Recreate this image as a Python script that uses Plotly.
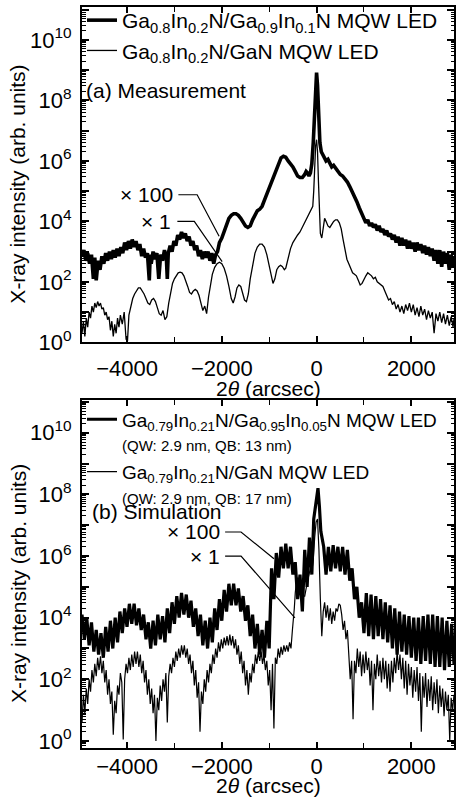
import numpy as np
import plotly.graph_objects as go

# ---------------- DATA (log10 of intensity) ----------------
# (a) Measurement, Ga0.8In0.2N/Ga0.9In0.1N MQW LED  (x100)
meas_qb_x = [-4950, -4910, -4870, -4830, -4790, -4750, -4710, -4680, -4650, -4610, -4570, -4530,
             -4490, -4450, -4410, -4370, -4330, -4290, -4250, -4210, -4170, -4130, -4090, -4050,
             -4010, -3970, -3930, -3890, -3850, -3810, -3770, -3730, -3690, -3650, -3610, -3570,
             -3530, -3510, -3490, -3450, -3410, -3370, -3330, -3290, -3250, -3210, -3170, -3150,
             -3130, -3090, -3050, -3010, -2970, -2930, -2890, -2850, -2810, -2770, -2730, -2690,
             -2650, -2610, -2570, -2530, -2490, -2450, -2410, -2370, -2330, -2290, -2250, -2210,
             -2170, -2130, -2090, -2050,
             -2000, -1950, -1900, -1850, -1800, -1750, -1700, -1650, -1600, -1550, -1500, -1450,
             -1400, -1350, -1300, -1250, -1200, -1150, -1100, -1050, -1000, -950, -900, -850,
             -800, -750, -700, -650, -600, -550, -500, -450, -400, -350, -300, -250, -220, -190,
             -160, -130, -100, -70, -40, -20, 0, 20, 40, 70, 100, 130, 170, 200, 240, 280, 320,
             360, 400, 450, 500, 550, 600, 650, 700, 750, 800, 850, 900, 950, 1000,
             1040, 1080, 1120, 1160, 1200, 1240, 1280, 1320, 1360, 1400, 1440, 1480, 1520, 1560,
             1600, 1640, 1680, 1720, 1760, 1800, 1840, 1880, 1920, 1960, 2000, 2040, 2080, 2120,
             2160, 2200, 2240, 2280, 2320, 2360, 2400, 2440, 2480, 2520, 2560, 2600, 2640, 2680,
             2720, 2760, 2800, 2840, 2880, 2900]
meas_qb_log = [2.85, 3.05, 2.7, 2.95, 2.6, 2.9, 2.1, 2.8, 2.05, 2.7, 2.4, 2.85,
               2.6, 2.95, 2.7, 3.0, 2.75, 3.05, 2.8, 3.1, 2.85, 3.15, 2.95, 3.3,
               3.05, 3.35, 3.1, 3.4, 3.15, 3.35, 3.05, 3.25, 2.85, 3.1, 2.8, 2.95,
               2.05, 2.9, 2.6, 3.0, 2.75, 2.95, 2.1, 2.9, 2.7, 3.05, 2.8, 2.1,
               2.95, 3.2, 3.0, 3.35, 3.2, 3.55, 3.4, 3.65, 3.45, 3.6, 3.35, 3.5,
               3.2, 3.35, 3.05, 3.2, 2.85, 3.05, 2.75, 3.0, 2.8, 3.0, 2.7, 2.95,
               2.6, 2.9, 3.0, 3.3,
               3.45, 3.7, 3.9, 4.1, 4.2, 4.25, 4.25, 4.2, 4.1, 3.95, 3.85, 3.8,
               3.85, 4.05, 4.2, 4.35, 4.4, 4.5, 4.7, 4.9, 5.15, 5.35, 5.55, 5.75,
               5.95, 6.1, 6.15, 6.12, 6.0, 5.9, 5.8, 5.65, 5.5, 5.45, 5.45, 5.55, 5.65, 5.6,
               5.5, 5.6, 5.9, 6.6, 7.6, 8.5, 8.92, 8.5, 7.6, 6.6, 6.3, 6.2, 6.1, 6.0, 6.05, 5.95, 5.8,
               5.85, 5.75, 5.65, 5.55, 5.5, 5.4, 5.3, 5.15, 5.0, 4.85, 4.65, 4.45, 4.25, 4.1,
               3.95, 4.05, 3.85, 3.95, 3.8, 3.9, 3.7, 3.85, 3.65, 3.75, 3.55, 3.7, 3.5, 3.6,
               3.4, 3.55, 3.3, 3.5, 3.2, 3.45, 3.2, 3.4, 3.1, 3.35, 3.1, 3.3, 3.0, 3.3,
               3.05, 3.25, 2.95, 3.2, 2.9, 3.15, 2.85, 3.1, 2.7, 3.05, 2.6, 3.05, 2.5, 3.0,
               2.6, 2.95, 2.4, 2.9, 2.5, 2.85]

# (a) Measurement, Ga0.8In0.2N/GaN MQW LED  (x1)
meas_gan_x = [-4950, -4920, -4890, -4860, -4830, -4800, -4770, -4740, -4710, -4680, -4650, -4620,
              -4590, -4560, -4530, -4500, -4470, -4440, -4410, -4380, -4350, -4320, -4290, -4260,
              -4230, -4200, -4170, -4140, -4100, -4060, -4020, -3990, -3960, -3920, -3880, -3840,
              -3800, -3760, -3720, -3680, -3640, -3600, -3560, -3520, -3480, -3440, -3400, -3360,
              -3320, -3280, -3240, -3200, -3160, -3120, -3080, -3040, -3000, -2960, -2920, -2880,
              -2840, -2800, -2760, -2720, -2680, -2640, -2600, -2560, -2520, -2480, -2440, -2400,
              -2360, -2320, -2280, -2240, -2200, -2150, -2100, -2050, -2000, -1950, -1900, -1850,
              -1800, -1760, -1720, -1680, -1640, -1600, -1560, -1520, -1480, -1440, -1400, -1350,
              -1300, -1250, -1200, -1150, -1100, -1050, -1000, -950, -920, -880, -840, -800, -760,
              -720, -680, -650, -600, -550, -500, -450, -400, -350, -300, -250, -200, -150, -110,
              -80, -60, -40, -20, 0, 20, 40, 60, 80, 110, 140, 170, 200, 240, 280, 320, 360, 400,
              440, 480, 520, 560, 600, 640, 680, 720, 760, 800, 840, 880, 920, 960, 1000, 1040,
              1080, 1120, 1160, 1200, 1240, 1280, 1320, 1360, 1400, 1440, 1480, 1520, 1560, 1600,
              1640, 1680, 1720, 1760, 1800, 1840, 1880, 1920, 1960, 2000, 2040, 2080, 2120, 2160,
              2200, 2240, 2280, 2320, 2360, 2400, 2440, 2480, 2520, 2560, 2600, 2640, 2680, 2720,
              2760, 2800, 2840, 2880, 2900]
meas_gan_log = [0.3, 0.7, 0.2, 0.8, 0.5, 1.0, 0.8, 1.2, 1.0, 1.3, 1.15, 1.35,
                1.2, 1.3, 1.1, 1.15, 0.9, 1.0, 0.75, 0.85, 0.4, 0.7, 0.2, 0.6,
                0.3, 0.8, 0.5, 0.9, 0.6, 1.0, 0.1, 0.05, 0.9, 1.2, 1.45, 1.6,
                1.72, 1.8, 1.8, 1.72, 1.6, 1.45, 1.3, 1.25, 1.4, 1.45, 1.35, 1.15,
                0.95, 0.9, 1.05, 0.75, 0.85, 1.3, 1.7, 1.95, 2.1, 2.22, 2.3, 2.32,
                2.3, 2.2, 2.05, 1.85, 1.65, 1.6, 1.7, 1.75, 1.7, 1.55, 1.3, 1.05,
                1.2, 0.95, 1.5, 1.95, 2.25, 2.48, 2.6, 2.65, 2.6, 2.45, 2.2, 1.85,
                1.45, 1.3, 1.5, 1.8, 1.9, 1.85, 1.6, 1.4, 1.35, 1.6, 2.1, 2.6,
                2.95, 3.15, 3.25, 3.25, 3.15, 2.9, 2.55, 2.15, 1.95, 2.1, 2.4, 2.5, 2.55,
                2.5, 2.4, 2.45, 2.8, 3.1, 3.3, 3.45, 3.55, 3.65, 3.8, 4.0, 4.15, 4.3, 4.4,
                4.5, 5.0, 5.8, 6.5, 6.7, 6.3, 5.3, 4.3, 3.6, 3.45, 3.8, 4.1, 4.0, 3.85, 3.8, 3.9, 4.0, 4.05,
                4.05, 3.95, 3.75, 3.4, 3.0, 2.75, 2.6, 2.45, 2.3, 2.25, 2.2, 2.05, 1.9, 1.95, 2.1, 2.2,
                2.3, 2.25, 2.2, 2.1, 2.15, 2.0, 1.95, 1.9, 1.85, 1.7, 1.55, 1.4, 1.45, 1.25,
                1.35, 1.1, 1.25, 1.0, 1.2, 0.95, 1.25, 1.05, 1.3, 1.0, 1.25, 0.9, 1.15, 0.85,
                1.2, 0.9, 1.1, 0.75, 1.05, 0.8, 1.0, 0.3, 0.95, 0.7, 1.0, 0.65, 0.95, 0.6,
                0.9, 0.55, 0.85, 0.5, 0.8]

# (b) Simulation, Ga0.79In0.21N/Ga0.95In0.05N MQW LED  (x100)
sim_qb_x = [-4950, -4900, -4850, -4800, -4750, -4700, -4650, -4600, -4550, -4500, -4450, -4400,
            -4350, -4300, -4250, -4200, -4150, -4100, -4050, -4000, -3950, -3900, -3850, -3800,
            -3750, -3700, -3650, -3600, -3550, -3500, -3450, -3400, -3350, -3300, -3250, -3200,
            -3150, -3100, -3050, -3000, -2950, -2900, -2850, -2800, -2750, -2700, -2650, -2600,
            -2550, -2500, -2450, -2400, -2350, -2300, -2250, -2200, -2150, -2100, -2050, -2000,
            -1950, -1900, -1850, -1800, -1750, -1700, -1650, -1600, -1550, -1500, -1450, -1400,
            -1350, -1300, -1250, -1200, -1150, -1100, -1050, -1000, -950, -900, -850, -800,
            -750, -700, -650, -600, -550, -500, -450, -400, -350, -300, -250, -200, -150, -100,
            -60, -30, 0, 30, 60, 90,
            150, 200, 250, 300, 350, 400, 450, 500, 550, 600, 650, 700, 750, 800, 850, 900,
            950, 1000, 1050, 1100, 1150, 1200, 1250, 1300, 1350, 1400, 1450, 1500, 1550, 1600,
            1650, 1700, 1750, 1800, 1850, 1900, 1950, 2000, 2050, 2100, 2150, 2200, 2250, 2300,
            2350, 2400, 2450, 2500, 2550, 2600, 2650, 2700, 2750, 2800, 2850, 2900]
sim_qb_log = [4.1, 3.3, 4.0, 3.1, 3.85, 2.9, 3.6, 2.8, 3.5, 2.7, 3.7, 2.9,
              3.9, 3.0, 4.0, 3.2, 4.2, 3.5, 4.3, 3.7, 4.45, 3.8, 4.45, 3.75,
              4.3, 3.6, 4.1, 3.3, 3.85, 3.0, 3.9, 3.1, 4.1, 3.3, 4.05, 3.2,
              4.3, 3.5, 4.5, 3.8, 4.7, 4.0, 4.8, 4.1, 4.75, 4.0, 4.55, 3.7,
              4.3, 3.4, 4.1, 3.1, 3.9, 3.0, 4.0, 3.2, 4.3, 3.6, 4.6, 3.9,
              4.9, 4.2, 5.1, 4.4, 5.1, 4.4, 4.95, 4.2, 4.7, 3.9, 4.4, 3.4,
              4.1, 3.0, 3.8, 2.8, 3.6, 2.7, 3.9, 3.0, 5.6, 4.6, 6.1, 5.3,
              6.3, 5.6, 6.4, 5.6, 6.3, 5.4, 5.8, 4.6, 5.4, 4.2, 6.2, 5.0, 6.6, 5.4,
              7.2, 7.6, 7.9, 8.2, 7.6, 6.8,
              6.3, 5.4, 6.3, 5.5, 6.35, 5.6, 6.3, 5.5, 6.3, 5.4, 6.2, 5.2, 5.6, 4.6, 5.0, 4.0,
              4.5, 3.5, 4.8, 3.4, 4.75, 3.3, 4.7, 3.4, 4.6, 3.3, 4.5, 3.2, 4.4, 3.0,
              4.3, 2.8, 4.2, 2.9, 4.1, 2.8, 4.05, 2.7, 4.0, 2.6, 4.0, 2.5, 4.05, 2.6,
              4.1, 2.5, 4.1, 2.4, 4.05, 2.4, 4.0, 2.3, 3.9, 2.4, 3.8, 2.5]

# (b) Simulation, Ga0.79In0.21N/GaN MQW LED  (x1)
sim_gan_x = [-4950, -4920, -4890, -4860, -4830, -4800, -4770, -4740, -4710, -4680, -4650, -4620,
             -4590, -4560, -4530, -4500, -4470, -4440, -4410, -4380, -4350, -4320, -4290, -4260,
             -4230, -4200, -4170, -4140, -4110, -4080, -4050, -4020, -3990, -3960, -3930, -3900,
             -3870, -3840, -3810, -3780, -3750, -3720, -3690, -3660, -3630, -3600, -3570, -3540,
             -3510, -3480, -3450, -3420, -3390, -3360, -3330, -3300, -3270, -3240, -3210, -3180,
             -3150, -3120, -3090, -3060, -3030, -3000, -2970, -2940, -2910, -2880, -2850, -2820,
             -2790, -2760, -2730, -2700, -2670, -2640, -2610, -2580, -2550, -2520, -2490, -2460,
             -2430, -2400, -2370, -2340, -2310, -2280, -2250, -2220, -2190, -2160, -2130, -2100,
             -2070, -2040, -2010, -1980, -1950, -1920, -1890, -1860, -1830, -1800, -1770, -1740,
             -1710, -1680, -1650, -1620, -1590, -1560, -1530, -1500, -1470, -1440, -1410, -1380,
             -1350, -1320, -1290, -1260, -1230, -1200, -1170, -1140, -1110, -1080, -1050, -1020,
             -990, -960, -930, -900, -870, -840, -810, -780, -750, -720, -690, -660, -630, -600,
             -570, -540, -510, -490, -470, -450, -430, -400, -370, -340, -310, -280, -250, -220,
             -190, -160, -130, -100, -70, -40, -10, 20, 50, 80, 110, 140, 170, 200, 230, 260,
             290, 320, 350, 380, 410, 440, 470, 500, 530, 560, 590, 620, 650, 680, 710, 740,
             770, 800, 830, 860, 890, 920, 950, 980, 1010, 1040, 1070, 1100, 1130, 1160, 1190,
             1220, 1250, 1280, 1310, 1340, 1370, 1400, 1430, 1460, 1490, 1520, 1550, 1580, 1610,
             1640, 1670, 1700, 1730, 1760, 1790, 1820, 1850, 1880, 1910, 1940, 1970, 2000, 2030,
             2060, 2090, 2120, 2150, 2180, 2210, 2240, 2270, 2300, 2330, 2360, 2390, 2420, 2450,
             2480, 2510, 2540, 2570, 2600, 2630, 2660, 2690, 2720, 2750, 2780, 2810, 2840, 2870,
             2900]
sim_gan_log = [0.6, 1.5, 0.9, 1.7, 1.2, 2.0, 1.6, 2.3, 1.9, 2.5, 2.1, 2.7,
               2.3, 2.75, 2.2, 2.6, 1.9, 2.3, 1.5, 2.0, 1.2, 1.6, 0.2, 1.3,
               0.9, 1.8, 1.5, 2.2, 1.9, 0.05, 2.0, 2.5, 2.2, 2.7, 2.3, 2.8,
               2.4, 2.9, 2.5, 2.9, 2.4, 2.8, 2.2, 2.6, 1.9, 2.3, 1.5, 2.0,
               1.2, 1.7, 0.9, 1.5, 0.0, 1.4, 1.0, 1.8, 1.3, 2.0, 1.6, 2.2,
               0.6, 2.1, 2.5, 2.2, 2.7, 2.4, 2.9, 2.6, 3.0, 2.7, 3.1, 2.8,
               3.1, 2.7, 3.0, 2.5, 2.8, 2.2, 2.6, 1.8, 2.3, 1.4, 1.9, 0.3,
               1.6, 1.2, 2.0, 1.6, 2.3, 1.9, 2.5, 2.2, 2.8, 2.5, 3.0, 2.7,
               3.2, 2.9, 3.3, 3.0, 3.35, 3.1, 3.4, 3.1, 3.45, 3.1, 3.4, 3.0,
               3.3, 2.8, 3.1, 2.5, 2.9, 2.2, 2.6, 1.8, 2.3, 1.5, 2.2, 1.9,
               2.5, 2.2, 2.8, 2.5, 2.9, 2.6, 2.9, 2.5, 2.8, 2.3, 2.6, 1.8,
               2.3, 1.0, 2.5, 0.4, 2.7, 2.5, 3.0, 2.7, 3.05, 2.8, 3.1, 2.9, 3.1, 2.9,
               3.2, 3.0, 3.6, 3.85, 4.3, 4.8, 5.1, 5.3, 5.1, 4.8, 4.9, 4.7, 4.7, 5.0,
               5.2, 5.4, 5.6, 5.5, 5.9, 6.6, 7.1, 7.2, 6.2, 4.6, 3.4, 4.2, 4.5, 4.0, 4.4, 3.9,
               4.3, 3.8, 4.2, 3.9, 4.3, 4.2, 4.45, 4.4, 4.1, 3.6, 3.9, 3.3, 3.6, 2.8, 2.0, 2.6,
               0.7, 2.6, 2.2, 3.0, 2.4, 2.9, 2.1, 2.8, 2.2, 2.9, 2.3, 2.7, 1.8, 2.6, 1.0,
               2.5, 2.0, 2.8, 2.1, 2.6, 1.9, 2.7, 2.0, 2.6, 1.7, 2.5, 1.6, 2.6, 1.9,
               2.7, 2.2, 2.9, 2.3, 2.8, 2.0, 2.7, 1.7, 2.6, 1.5, 2.5, 1.8, 2.4, 1.4,
               2.3, 1.6, 2.4, 1.3, 2.2, 0.3, 2.1, 1.4, 2.2, 1.1, 2.0, 1.3, 2.1, 1.0,
               1.9, 1.2, 2.0, 0.9, 1.8, 1.1, 1.7, 0.8, 1.6, 1.0, 1.5, 0.0, 1.4, 1.0,
               1.5]

# Leader lines for the "x 100" / "x 1" labels (x in arcsec, log10 intensity)
lead_a100_x = [-2916, -2520, -2057]
lead_a100_log = [4.88, 4.88, 3.51]
lead_a1_x = [-2938, -2580, -1993]
lead_a1_log = [4.0, 4.0, 2.67]
lead_b100_x = [-1930, -1594, -899]
lead_b100_log = [6.78, 6.78, 5.91]
lead_b1_x = [-1930, -1594, -457]
lead_b1_log = [6.0, 6.0, 3.99]

# Axis settings
x_range = [-4950, 2900]
x_ticks = [-4000, -2000, 0, 2000]
y_decades = list(range(0, 12))

FONT = "Liberation Sans, Arial, Helvetica, sans-serif"

fig = go.Figure()

def pw(v):
    return np.power(10.0, np.array(v, dtype=float))

fig.add_trace(go.Scatter(
    x=meas_qb_x, y=pw(meas_qb_log), mode="lines",
    line=dict(color="black", width=3.6),
    name="Ga<sub>0.8</sub>In<sub>0.2</sub>N/Ga<sub>0.9</sub>In<sub>0.1</sub>N MQW LED",
    xaxis="x", yaxis="y", legend="legend"))
fig.add_trace(go.Scatter(
    x=meas_gan_x, y=pw(meas_gan_log), mode="lines",
    line=dict(color="black", width=1.3),
    name="Ga<sub>0.8</sub>In<sub>0.2</sub>N/GaN MQW LED",
    xaxis="x", yaxis="y", legend="legend"))

fig.add_trace(go.Scatter(
    x=sim_qb_x, y=pw(sim_qb_log), mode="lines",
    line=dict(color="black", width=3.2),
    name="Ga<sub>0.79</sub>In<sub>0.21</sub>N/Ga<sub>0.95</sub>In<sub>0.05</sub>N MQW LED"
         "<br><span style='font-size:15px'>(QW: 2.9 nm, QB: 13 nm)</span>",
    xaxis="x2", yaxis="y2", legend="legend2"))
fig.add_trace(go.Scatter(
    x=sim_gan_x, y=pw(sim_gan_log), mode="lines",
    line=dict(color="black", width=1.2),
    name="Ga<sub>0.79</sub>In<sub>0.21</sub>N/GaN MQW LED"
         "<br><span style='font-size:15px'>(QW: 2.9 nm, QB: 17 nm)</span>",
    xaxis="x2", yaxis="y2", legend="legend2"))

for lx, ly, xa, ya in [(lead_a100_x, lead_a100_log, "x", "y"),
                       (lead_a1_x, lead_a1_log, "x", "y"),
                       (lead_b100_x, lead_b100_log, "x2", "y2"),
                       (lead_b1_x, lead_b1_log, "x2", "y2")]:
    fig.add_trace(go.Scatter(x=lx, y=pw(ly), mode="lines",
                             line=dict(color="black", width=1.2),
                             showlegend=False, hoverinfo="skip",
                             xaxis=xa, yaxis=ya))

H = 804.0
W = 457

ytickvals = [10.0 ** k for k in y_decades]
yticktext = ["10<sup>%d</sup>" % k if k % 2 == 0 and k <= 10 else "" for k in y_decades]
yminor = [m * 10.0 ** k for k in range(-1, 12) for m in range(2, 10)]

common_x = dict(range=x_range, tickmode="array", tickvals=x_ticks,
                ticks="inside", ticklen=6, tickwidth=1.5, tickcolor="black",
                showline=True, linewidth=2, linecolor="black", mirror="allticks",
                showgrid=False, zeroline=False,
                tickfont=dict(family=FONT, size=22, color="black"),
                minor=dict(tickmode="linear", tick0=0, dtick=1000, ticks="inside",
                           ticklen=5, tickwidth=1.2, tickcolor="black", showgrid=False))
common_y = dict(type="log", tickmode="array", tickvals=ytickvals, ticktext=yticktext,
                ticks="inside", ticklen=7, tickwidth=1.5, tickcolor="black",
                showline=True, linewidth=2, linecolor="black", mirror="allticks",
                showgrid=False, zeroline=False,
                tickfont=dict(family=FONT, size=22, color="black"),
                ticklabelstandoff=4,
                minor=dict(tickmode="array", tickvals=yminor, ticks="inside",
                           ticklen=3.5, tickwidth=1, tickcolor="black", showgrid=False))

fig.update_layout(
    width=W, height=int(H),
    margin=dict(l=82, r=3, t=0, b=0),
    paper_bgcolor="white", plot_bgcolor="white",
    font=dict(family=FONT, color="black"),
    xaxis=dict(domain=[0, 1], anchor="y", ticklabelstandoff=5, **common_x),
    yaxis=dict(domain=[1 - 348 / H, 1 - 7 / H], anchor="x", range=[0, 11.09], **common_y),
    xaxis2=dict(domain=[0, 1], anchor="y2", ticklabelstandoff=-2, **common_x),
    yaxis2=dict(domain=[1 - 760 / H, 1 - 407 / H], anchor="x2", range=[-0.22, 11.05], **common_y),
    legend=dict(x=0, y=1, xanchor="left", yanchor="top",
                font=dict(family=FONT, size=21, color="black"),
                bgcolor="rgba(0,0,0,0)", borderwidth=0, tracegroupgap=0,
                itemwidth=30, valign="middle"),
    legend2=dict(x=0, y=1 - 407 / H, xanchor="left", yanchor="top",
                 font=dict(family=FONT, size=19, color="black"),
                 bgcolor="rgba(0,0,0,0)", borderwidth=0, tracegroupgap=0,
                 itemwidth=30, valign="top"),
    showlegend=True,
)

ann = []
# axis titles
for xr, yr, tshift in [("x", "y", -46), ("x2", "y2", -38)]:
    ann.append(dict(text="X-ray intensity (arb. units)", textangle=-90,
                    xref="paper", x=0, xshift=-64, xanchor="center",
                    yref=yr + " domain", y=0.5, yshift=-10, yanchor="middle",
                    showarrow=False, font=dict(family=FONT, size=21, color="black")))
    ann.append(dict(text="2<i>θ</i> (arcsec)",
                    xref=xr + " domain", x=0.5, xanchor="center",
                    yref=yr + " domain", y=0, yshift=tshift, yanchor="middle",
                    showarrow=False, font=dict(family=FONT, size=21, color="black")))
ann.append(dict(text="(a) Measurement", xref="x domain", x=0, xshift=2, xanchor="left",
                yref="y domain", y=(348 - 92) / 341, yanchor="middle", showarrow=False,
                font=dict(family=FONT, size=21, color="black")))
ann.append(dict(text="(b) Simulation", xref="x2 domain", x=0, xshift=8, xanchor="left",
                yref="y2 domain", y=(760 - 520) / 353, yanchor="middle", showarrow=False,
                font=dict(family=FONT, size=21, color="black")))
# "x 100" / "x 1" labels
for txt, xv, lv, xr, yr in [("× 100", -2990, 4.88, "x", "y"),
                            ("× 1", -3025, 4.0, "x", "y"),
                            ("× 100", -1993, 6.78, "x2", "y2"),
                            ("× 1", -1993, 6.0, "x2", "y2")]:
    ann.append(dict(text=txt, xref=xr, x=xv, xanchor="right",
                    yref=yr, y=lv, yanchor="middle", showarrow=False,
                    font=dict(family=FONT, size=21, color="black")))
fig.update_layout(annotations=ann)

fig.write_html("out.html")
